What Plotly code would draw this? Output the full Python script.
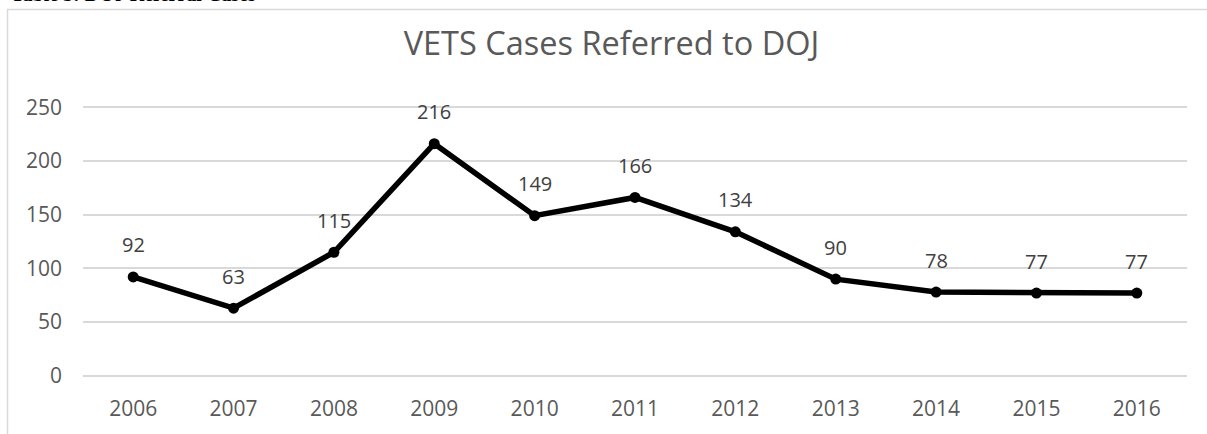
import plotly.graph_objects as go

years = ["2006", "2007", "2008", "2009", "2010", "2011", "2012", "2013", "2014", "2015", "2016"]
cases = [92, 63, 115, 216, 149, 166, 134, 90, 78, 77, 77]
y_ticks = [0, 50, 100, 150, 200, 250]

W, H = 1207, 434
L, R, T, B = 83, 1187, 105, 381  # plot area in pixels
pw, ph = R - L, B - T

def px(x):
    return (x - L) / pw

def py(y):
    return (B - y) / ph

idx = list(range(len(years)))

fig = go.Figure()
fig.add_trace(go.Scatter(
    x=idx, y=cases, mode="lines+markers",
    line=dict(color="black", width=5.5),
    marker=dict(color="black", size=11),
    hoverinfo="skip", showlegend=False,
))

for i, v in zip(idx, cases):
    fig.add_annotation(x=i, y=v, text=str(v), showarrow=False,
                       yshift=32, font=dict(family="Open Sans", size=20, color="#404040"))

# chart border
fig.add_shape(type="rect", xref="paper", yref="paper",
              x0=px(7.5), x1=px(1230), y0=py(8.5), y1=py(460),
              line=dict(color="#d9d9d9", width=1.5), fillcolor="rgba(0,0,0,0)", layer="below")

# caption above chart (cut off at top)
fig.add_annotation(xref="paper", yref="paper", x=px(9), y=py(5.5), xanchor="left", yanchor="bottom",
                   text="<b>Table 5: DOJ Referral Cases</b>", showarrow=False,
                   font=dict(family="Liberation Serif", size=20, color="black"))

fig.update_layout(
    width=W, height=H,
    margin=dict(l=L, r=W - R, t=T, b=H - B),
    paper_bgcolor="white", plot_bgcolor="white",
    title=dict(text="VETS Cases Referred to DOJ", x=611.5 / W, xanchor="center",
               y=1 - 44 / H, yanchor="middle",
               font=dict(family="Open Sans", size=32.5, color="#595959")),
    xaxis=dict(range=[-0.5, len(years) - 0.5], autorange=False,
               tickvals=idx, ticktext=years,
               showgrid=False, zeroline=False, showline=False,
               tickfont=dict(family="Open Sans", size=21, color="#595959"),
               ticks="", ticklabelstandoff=16),
    yaxis=dict(range=[-2, 252], autorange=False, tickvals=y_ticks,
               showgrid=True, gridcolor="#d9d9d9", gridwidth=1.5,
               zeroline=False, showline=False,
               tickfont=dict(family="Open Sans", size=21, color="#595959"),
               ticks="", ticklabelstandoff=20),
)

fig.write_html("out.html")
